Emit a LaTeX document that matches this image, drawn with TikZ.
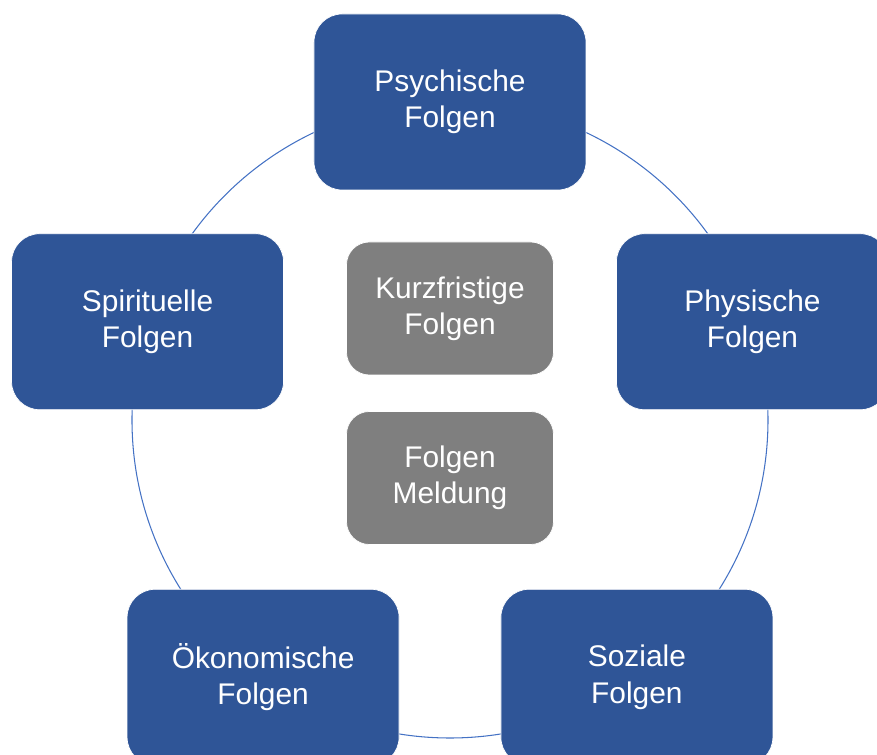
\documentclass[tikz,border=0pt]{standalone}
\usepackage{fontspec}
\setmainfont{Liberation Sans}
\usepackage{tikz}
\usetikzlibrary{positioning}
\usepackage{xcolor}
\definecolor{folgenblau}{HTML}{2F5597}
\definecolor{folgengrau}{HTML}{7F7F7F}
\definecolor{kreislinie}{HTML}{4472C4}

\begin{document}
\begin{tikzpicture}[
        folge/.style={rectangle, fill=folgenblau, draw=white, thin, text=white, minimum width=5.44cm, minimum height=3.52cm, rounded corners=16pt, align=center, font=\fontsize{17}{20.5}\selectfont},
        mitte/.style={rectangle, fill=folgengrau, draw=white, thin, text=white, minimum width=4.14cm, minimum height=2.66cm, rounded corners=13pt, align=center, font=\fontsize{17}{20.5}\selectfont},
        ring/.style={draw=kreislinie, line width=0.6pt}
    ]
    \path[use as bounding box, clip] (-9.00, -6.70) rectangle (8.54, 8.40);

    % Kreis hinter den Kaestchen
    \coordinate (M) at (0, 0);
    \draw[ring] (M) circle (6.36cm);

    % Aeussere Folgen
    \node[folge] (psy) at (90:6.36) {Psychische\\Folgen};
    \node[folge] (phy) at (18:6.36) {Physische\\Folgen};
    \node[folge] (soz) at (-54:6.36) {Soziale\\Folgen};
    \node[folge] (oek) at (234:6.36) {Ökonomische\\Folgen};
    \node[folge] (spi) at (162:6.36) {Spirituelle\\Folgen};

    % Innere Kaestchen
    \node[mitte] (kurz) at (0, 2.23) {Kurzfristige\\Folgen};
    \node[mitte] (meld) at (0, -1.16) {Folgen\\Meldung};
\end{tikzpicture}
\end{document}
